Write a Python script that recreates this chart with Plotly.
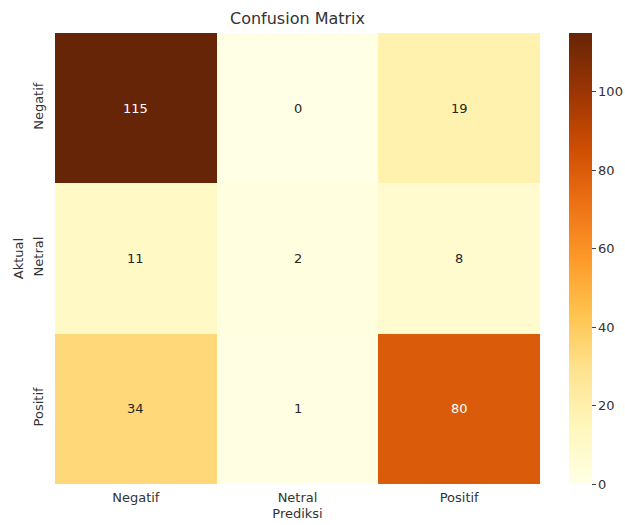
import plotly.graph_objects as go

labels = ["Negatif", "Netral", "Positif"]
matrix = [
    [115, 0, 19],
    [11, 2, 8],
    [34, 1, 80],
]
cbar_ticks = [0, 20, 40, 60, 80, 100]

zmax = max(max(r) for r in matrix)
FONT = "DejaVu Sans"

fig = go.Figure(
    go.Heatmap(
        z=matrix,
        x=labels,
        y=labels,
        colorscale="YlOrBr",
        zmin=0,
        zmax=zmax,
        showscale=True,
        colorbar=dict(
            x=(569 - 55) / 485,
            xanchor="left",
            y=0.5,
            yanchor="middle",
            len=1.0,
            lenmode="fraction",
            thickness=23,
            xpad=0,
            ypad=0,
            outlinewidth=0,
            tickvals=cbar_ticks,
            ticks="outside",
            ticklen=4,
            tickcolor="#444",
            tickfont=dict(family=FONT, size=13, color="#333"),
        ),
        hoverinfo="skip",
    )
)

annotations = []
for i, row in enumerate(matrix):
    for j, v in enumerate(row):
        color = "white" if v / zmax > 0.55 else "#262626"
        annotations.append(
            dict(
                x=labels[j],
                y=labels[i],
                text=str(v),
                showarrow=False,
                font=dict(family=FONT, size=13, color=color),
            )
        )

fig.update_layout(
    width=625,
    height=525,
    margin=dict(l=55, r=85, t=33, b=41, autoexpand=False),
    paper_bgcolor="white",
    plot_bgcolor="white",
    title=dict(
        text="Confusion Matrix",
        x=(55 + 540) / 2 / 625,
        xanchor="center",
        y=1 - 18 / 525,
        yanchor="middle",
        font=dict(family=FONT, size=16, color="#333"),
    ),
    xaxis=dict(
        title=dict(text="Prediksi", font=dict(family=FONT, size=13, color="#333"), standoff=4),
        tickfont=dict(family=FONT, size=13, color="#333"),
        ticks="",
        ticklabelstandoff=4,
        showgrid=False,
        zeroline=False,
    ),
    yaxis=dict(
        title=dict(text="Aktual", font=dict(family=FONT, size=13, color="#333"), standoff=4),
        tickfont=dict(family=FONT, size=13, color="#333"),
        tickangle=-90,
        autorange="reversed",
        ticks="",
        ticklabelstandoff=8,
        showgrid=False,
        zeroline=False,
    ),
    annotations=annotations,
)

fig.write_html("out.html")
